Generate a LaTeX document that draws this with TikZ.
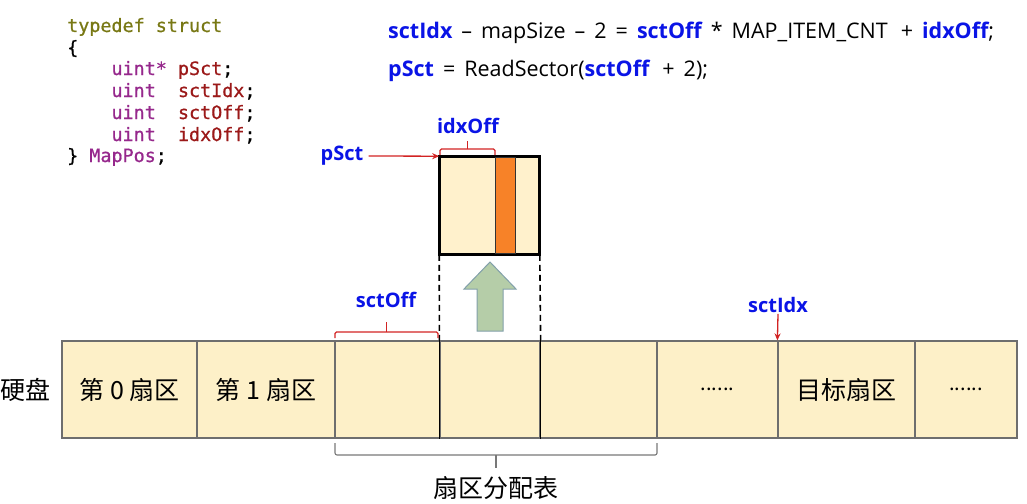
\documentclass[tikz,border=0pt]{standalone}
\usepackage{fontspec}
\setmainfont{Open Sans}
\newfontfamily\cjkfont{Noto Sans CJK SC}
\newfontfamily\codefont[FakeBold=0.8]{DejaVu Sans Mono}
\usetikzlibrary{arrows.meta, positioning, calc}
\definecolor{diskfill}{RGB}{253, 240, 200}
\definecolor{diskline}{RGB}{110, 110, 110}
\definecolor{sectfill}{RGB}{255, 241, 204}
\definecolor{striporange}{RGB}{247, 130, 40}
\definecolor{arrowgreen}{RGB}{181, 205, 168}
\definecolor{arrowedge}{RGB}{130, 160, 170}
\definecolor{labelblue}{RGB}{10, 20, 230}
\definecolor{markred}{RGB}{210, 35, 35}
\definecolor{bracegray}{RGB}{120, 120, 120}
\definecolor{kwolive}{RGB}{120, 120, 20}
\definecolor{typepurple}{RGB}{150, 40, 140}
\definecolor{varred}{RGB}{155, 25, 25}
\newcommand\widespace{\spaceskip 9pt\relax}

\begin{document}
\begin{tikzpicture}[
        x=1pt, y=-1pt,
        cell/.style={rectangle, draw=diskline, fill=diskfill, line width=1.2pt, minimum height=97pt, inner sep=0pt, font=\cjkfont\fontsize{25}{30}\selectfont},
        code/.style={anchor=base west, inner sep=0pt, font=\codefont\fontsize{18.4}{21.7}\selectfont},
        formula/.style={anchor=base west, inner sep=0pt, font=\fontsize{21.5}{26}\selectfont\widespace},
        varlbl/.style={inner sep=1pt, text=labelblue, font=\bfseries\fontsize{20}{24}\selectfont},
        redbrk/.style={draw=markred, line width=1.3pt, rounded corners=1.5pt},
        graybrk/.style={draw=bracegray, line width=1.1pt, rounded corners=2pt},
        redarrow/.style={-{Stealth[length=7pt, width=6pt]}, draw=markred, line width=1.3pt},
    ]
        \useasboundingbox (0,0) rectangle (1027,503);

        % code of the struct
        \node[code] (code1) at (67,32) {\textcolor{kwolive}{typedef struct}};
        \node[code] (code2) at (67,54) {\{};
        \node[code] (code3) at (67,75) {~~~~\textcolor{typepurple}{uint*}~\textcolor{varred}{pSct};};
        \node[code] (code4) at (67,97) {~~~~\textcolor{typepurple}{uint}~~\textcolor{varred}{sctIdx};};
        \node[code] (code5) at (67,119) {~~~~\textcolor{typepurple}{uint}~~\textcolor{varred}{sctOff};};
        \node[code] (code6) at (67,141) {~~~~\textcolor{typepurple}{uint}~~\textcolor{varred}{idxOff};};
        \node[code] (code7) at (67,162) {\}~\textcolor{typepurple}{MapPos};};

        % formulas
        \node[formula] (eq1) at (388,38) {\textcolor{labelblue}{\bfseries sctIdx} -- mapSize -- 2 = \textcolor{labelblue}{\bfseries sctOff} * MAP\_ITEM\_CNT\hspace{13pt}+ \textcolor{labelblue}{\bfseries idxOff};};
        \node[formula] (eq2) at (388,76) {\textcolor{labelblue}{\bfseries pSct} = ReadSector(\textcolor{labelblue}{\bfseries sctOff}\hspace{13pt}+ 2);};

        % disk sectors
        \node[cell, minimum width=135pt] (c0) at (129.5,389.5) {第 0 扇区};
        \node[cell, minimum width=138pt] (c1) at (266,389.5) {第 1 扇区};
        \node[cell, minimum width=105pt] (c2) at (387.5,389.5) {};
        \node[cell, minimum width=100pt] (c3) at (490,389.5) {};
        \node[cell, minimum width=117pt] (c4) at (598.5,389.5) {};
        \node[cell, minimum width=121pt] (c5) at (717.5,389.5) {\fontsize{20}{24}\selectfont ......};
        \node[cell, minimum width=137pt] (c6) at (846.5,389.5) {目标扇区};
        \node[cell, minimum width=102pt] (c7) at (966,389.5) {\fontsize{20}{24}\selectfont ......};
        \draw[line width=1.6pt] (c3.north west) -- (c3.south west);
        \draw[line width=1.6pt] (c3.north east) -- (c3.south east);
        \node[font=\cjkfont\fontsize{25}{30}\selectfont] (disk) at (25,389.5) {硬盘};

        % sector read into memory
        \node[rectangle, draw, fill=sectfill, line width=1.6pt, minimum width=99pt, minimum height=97pt, inner sep=0pt] (sect) at (489.5,205.5) {};
        \node[rectangle, draw=black!80, fill=striporange, line width=0.8pt, minimum width=20pt, minimum height=95.4pt, inner sep=0pt] (strip) at (505,205.5) {};
        \draw[line width=1.6pt] (sect.north west) rectangle (sect.south east);
        \draw[dashed, line width=1.6pt, dash pattern=on 6pt off 4pt] (sect.south west) -- (c3.north west);
        \draw[dashed, line width=1.6pt, dash pattern=on 6pt off 4pt] (sect.south east) -- (c3.north east);
        \filldraw[fill=arrowgreen, draw=arrowedge, line width=1pt]
            (477,331) -- (477,289) -- (464,289) -- (490,262) -- (516,289) -- (503,289) -- (503,331) -- cycle;

        % labels and marks
        \node[varlbl] (idxlbl) at (468,126) {idxOff};
        \draw[redbrk] (440,155) |- (467.5,149) -| (495,155);
        \draw[redbrk] (467.5,149) -- (467.5,141);
        \node[varlbl] (psctlbl) at (342,156) {pSct};
        \draw[redarrow] (psctlbl.east) ++(4,0) -- (sect.north west);
        \node[varlbl] (offlbl) at (386,300) {sctOff};
        \draw[redbrk] (335,338) |- (386.5,332) -| (438,338);
        \draw[redbrk] (386.5,332) -- (386.5,322);
        \node[varlbl] (sctlbl) at (778,305) {sctIdx};
        \draw[redarrow] (sctlbl.south) -- (c6.north west);

        \draw[graybrk] (335,443) |- (496,455) -| (657,443);
        \draw[graybrk] (496,455) -- (496,468);
        \node[font=\cjkfont\fontsize{25}{30}\selectfont] (tbl) at (496,488) {扇区分配表};
    \end{tikzpicture}
\end{document}
